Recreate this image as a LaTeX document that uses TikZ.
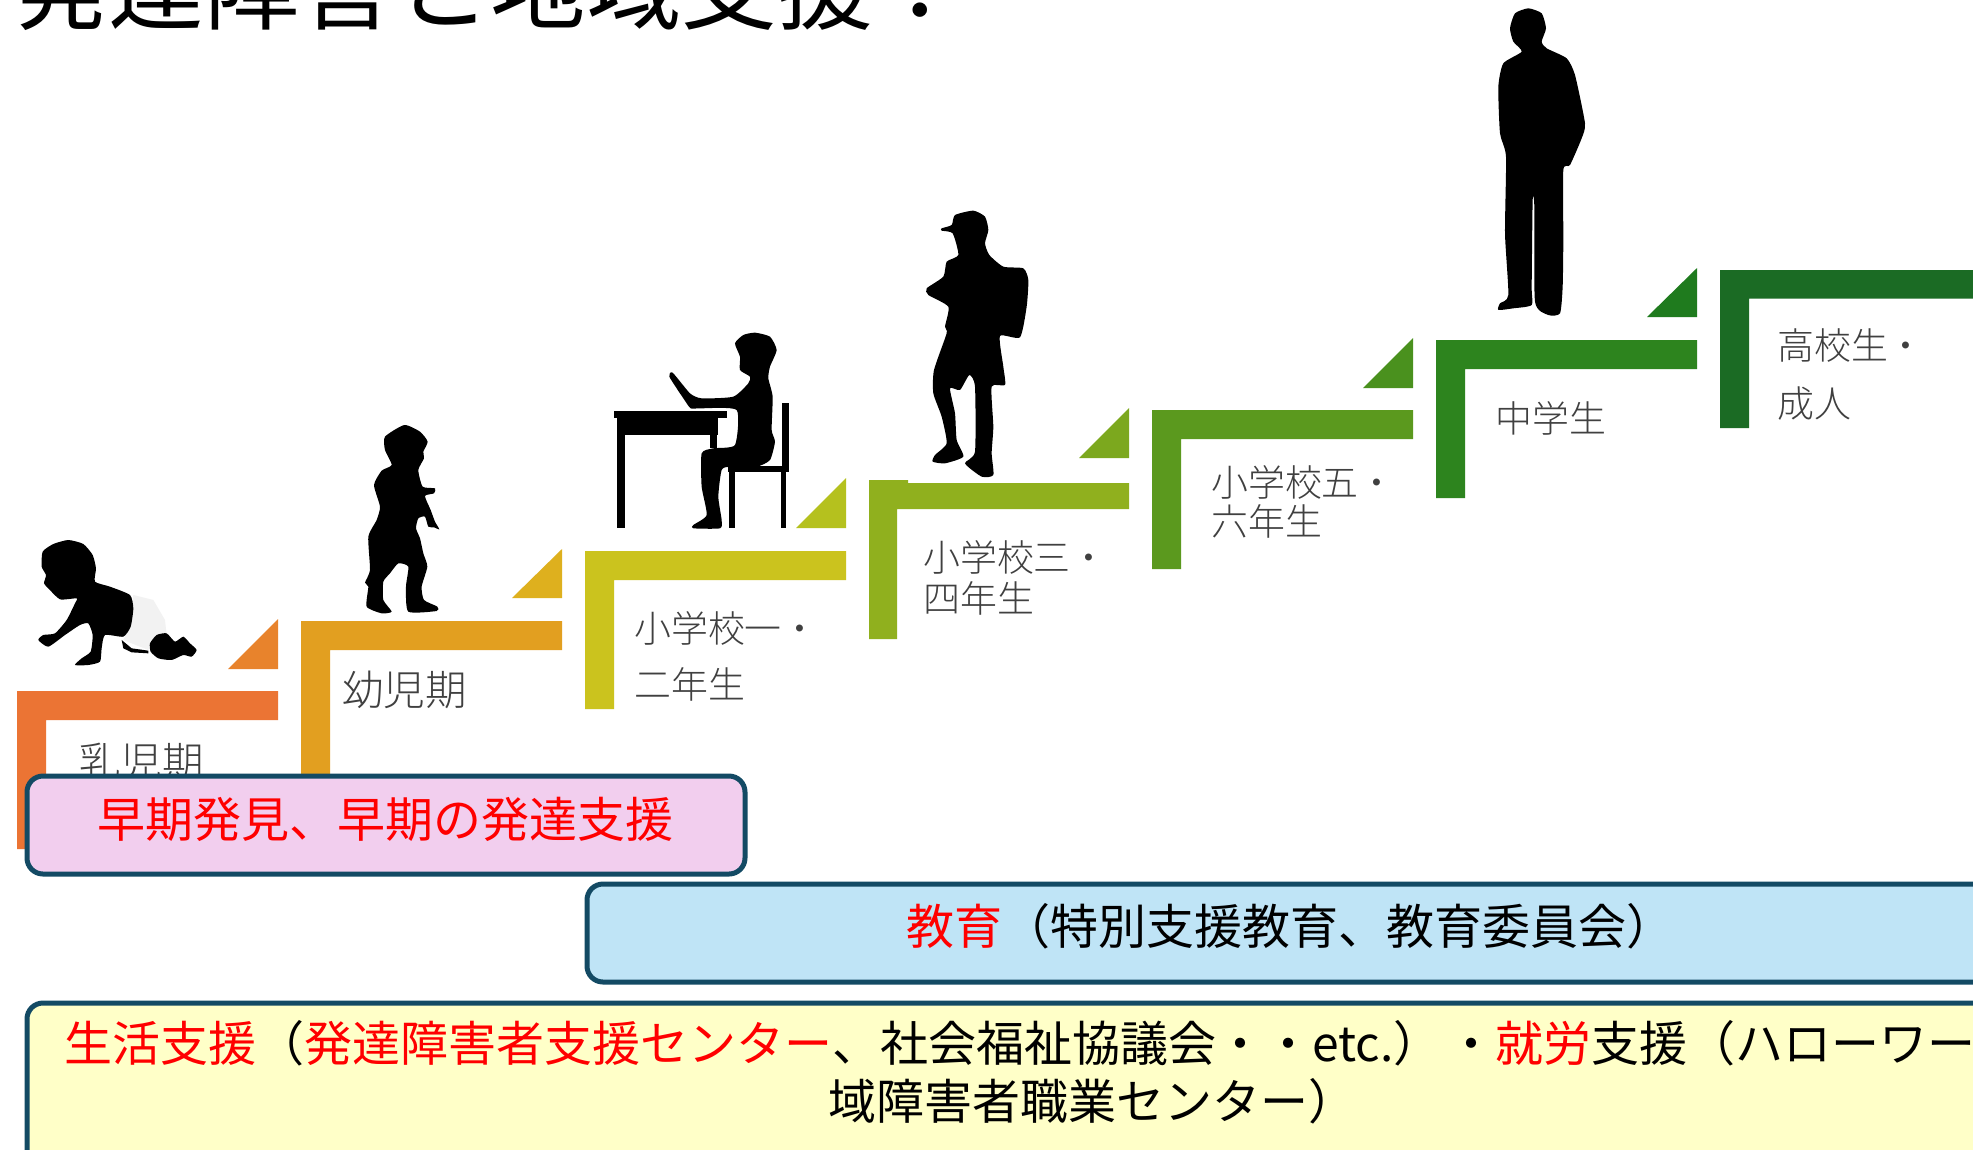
\documentclass[tikz,border=0pt]{standalone}
\usepackage{fontspec}
\setmainfont{Noto Sans CJK JP}
\newfontfamily\lightcjk{Noto Sans CJK JP Light}
\definecolor{bordc}{HTML}{134A64}
\definecolor{pinkband}{HTML}{F2CEEE}
\definecolor{blueband}{HTML}{BFE4F6}
\definecolor{yellowband}{HTML}{FFFFC8}
\definecolor{ca}{HTML}{EB7434}\definecolor{ta}{HTML}{E8832C}
\definecolor{cb}{HTML}{E29F20}\definecolor{tb}{HTML}{DEB01E}
\definecolor{cc}{HTML}{CBC31E}\definecolor{tc}{HTML}{B5C11E}
\definecolor{cd}{HTML}{90B01E}\definecolor{td}{HTML}{7CA81E}
\definecolor{ce}{HTML}{5B991E}\definecolor{te}{HTML}{4A911E}
\definecolor{cf}{HTML}{2D841E}\definecolor{tf}{HTML}{1F7B1E}
\definecolor{cg}{HTML}{1B6B24}
\definecolor{lab}{HTML}{404040}
\tikzset{
  lifeband/.style={draw=bordc,line width=5pt,rounded corners=16pt,inner sep=0pt,outer sep=0pt},
  bandtext/.style={anchor=base,inner sep=0pt,font=\fontsize{48}{58}\selectfont},
  steplarge/.style={anchor=base west,inner sep=0pt,text=lab,font=\lightcjk\fontsize{41.5}{50}\selectfont},
  stepsmall/.style={anchor=base west,inner sep=0pt,text=lab,font=\lightcjk\fontsize{36.9}{44}\selectfont},
  shadow/.style={fill=black,draw=none},
  sil/.style={smooth cycle,tension=0.35}
}
\begin{document}
\begin{tikzpicture}[x=1pt,y=-1pt]
\useasboundingbox (0,0) rectangle (1973,1149);
\clip (0,0) rectangle (1973,1149);
\fill[white] (0,0) rectangle (1973,1149);
% title
\node[anchor=base west,inner sep=0pt,font=\fontsize{95.5}{110}\selectfont] (title) at (13,22) {発達障害と地域支援：};
% steps
\fill[ca] (17,691)--(278,691)--(278,720)--(46,720)--(46,849)--(17,849)--cycle;
\fill[ta] (278,619)--(278,669)--(228,669)--cycle;
\fill[cb] (301,621)--(562,621)--(562,650)--(330,650)--(330,779)--(301,779)--cycle;
\fill[tb] (562,549)--(562,598)--(512,598)--cycle;
\fill[cc] (585,551)--(846,551)--(846,580)--(614,580)--(614,709)--(585,709)--cycle;
\fill[tc] (846,478)--(846,528)--(796,528)--cycle;
\fill[cd] (869,480)--(908,480)--(908,483)--(1129,483)--(1129,509)--(897,509)--(897,639)--(869,639)--cycle;
\fill[td] (1129,408)--(1129,458)--(1079,458)--cycle;
\fill[ce] (1152,410)--(1413,410)--(1413,439)--(1181,439)--(1181,569)--(1152,569)--cycle;
\fill[te] (1413,338)--(1413,388)--(1363,388)--cycle;
\fill[cf] (1436,340)--(1697,340)--(1697,369)--(1465,369)--(1465,498)--(1436,498)--cycle;
\fill[tf] (1697,268)--(1697,317)--(1647,317)--cycle;
\fill[cg] (1720,270)--(1980,270)--(1980,298.5)--(1749,298.5)--(1749,428)--(1720,428)--cycle;
% step labels
\node[steplarge] (l1) at (79,777) {乳児期};
\node[steplarge] (l2) at (342,705) {幼児期};
\node[stepsmall] (l3a) at (634,642) {小学校一・};
\node[stepsmall] (l3b) at (634,698) {二年生};
\node[stepsmall] (l4a) at (923,571) {小学校三・};
\node[stepsmall] (l4b) at (923,612) {四年生};
\node[stepsmall] (l5a) at (1211,496) {小学校五・};
\node[stepsmall] (l5b) at (1211,535) {六年生};
\node[stepsmall] (l6) at (1495,432) {中学生};
\node[stepsmall] (l7a) at (1777,359) {高校生・};
\node[stepsmall] (l7b) at (1777,417) {成人};
% baby
\begin{scope}[shift={(20,520)},x=0.3333pt,y=-0.3333pt]
\fill[black!5] (340,225)--(400,240)--(435,300)--(440,345)--(395,360)--(385,390)--(310,360)--(330,320)--cycle;
\fill[shadow] plot[sil] coordinates {(68,95)(100,72)(145,60)(190,72)(218,105)(228,145)(225,185)(270,200)(330,225)(340,265)(332,320)(310,350)(255,345)(245,385)(240,425)(205,435)(165,435)(185,415)(212,395)(218,345)(205,310)(180,315)(135,345)(85,380)(55,360)(70,345)(105,340)(140,300)(165,250)(170,235)(120,238)(85,205)(72,190)(78,165)(65,140)};
\fill[shadow] (305,360)--(335,385)--(385,392)--(385,400)--(335,397)--(310,385)--cycle;
\fill[shadow] plot[sil] coordinates {(390,370)(410,345)(440,340)(465,365)(490,350)(510,370)(530,390)(515,410)(490,405)(455,420)(415,415)(392,395)};
\end{scope}
% toddler
\begin{scope}[shift={(340,410)},x=0.3333pt,y=-0.3333pt]
\fill[shadow] plot[sil] coordinates {(193,45)(240,65)(263,95)(250,125)(252,145)(235,180)(248,230)(285,235)(282,250)(255,258)(272,300)(285,335)(298,358)(282,352)(265,350)(255,320)(235,325)(228,355)(240,385)(250,430)(262,470)(245,530)(252,570)(292,590)(290,603)(205,605)(198,530)(205,470)(175,460)(150,490)(130,515)(130,570)(155,605)(125,610)(80,590)(85,530)(75,518)(90,480)(85,380)(110,330)(120,290)(102,225)(125,182)(155,165)(135,120)(135,80)};
\end{scope}
% child at desk
\begin{scope}[shift={(600,320)},x=0.3333pt,y=-0.3333pt]
\fill[shadow] (42,272) rectangle (380,295);
\fill[shadow] (52,295) rectangle (355,345);
\fill[shadow] (52,345) rectangle (75,625);
\fill[shadow] (330,345) rectangle (350,385);
\fill[shadow] plot[sil] coordinates {(465,38)(510,50)(530,90)(510,140)(505,175)(518,230)(515,330)(525,365)(510,420)(470,440)(390,440)(365,450)(355,530)(365,600)(360,625)(280,625)(280,615)(320,585)(305,500)(305,400)(340,385)(405,375)(410,270)(300,265)(272,265)(250,235)(208,170)(218,158)(270,220)(305,235)(400,230)(445,190)(450,170)(420,150)(420,110)(405,70)(430,45)};
\fill[shadow] (546,250) rectangle (568,440);
\fill[shadow] (385,438) rectangle (568,455);
\fill[shadow] (388,455) rectangle (405,625);
\fill[shadow] (542,455) rectangle (558,625);
\end{scope}
% boy with backpack
\begin{scope}[shift={(910,200)},x=0.3333pt,y=-0.3333pt]
\fill[shadow] plot[sil] coordinates {(190,32)(225,50)(235,90)(225,130)(238,165)(280,200)(340,205)(355,240)(350,320)(330,412)(270,408)(280,500)(285,555)(245,560)(250,680)(245,760)(250,825)(215,830)(165,790)(195,755)(195,560)(178,525)(150,570)(120,565)(135,640)(140,720)(160,770)(105,790)(68,785)(75,765)(110,730)(95,650)(70,580)(72,510)(110,400)(105,380)(115,320)(55,285)(50,265)(100,230)(110,185)(145,165)(128,100)(95,92)(95,85)(125,75)(135,45)};
\end{scope}
% man
\begin{scope}[shift={(1480,0)},x=0.3333pt,y=-0.3333pt]
\fill[shadow] plot[sil] coordinates {(145,25)(185,40)(198,85)(185,125)(200,145)(260,175)(285,225)(315,370)(305,415)(270,495)(250,510)(250,720)(248,860)(240,940)(205,945)(165,905)(163,620)(158,600)(155,860)(155,915)(100,925)(55,930)(60,910)(85,885)(75,700)(78,470)(60,400)(55,260)(70,190)(125,155)(100,125)(90,85)(105,40)};
\end{scope}
% bands
\draw[lifeband,fill=pinkband] (27,776) rectangle (745,874);
\draw[lifeband,fill=blueband] (587,884) rectangle (1993,982);
\draw[lifeband,fill=yellowband] (27,1003) rectangle (2159,1200);
\node[bandtext,text=red] (pinktext) at (385.5,837) {早期発見、早期の発達支援};
\node[bandtext] (bluetext) at (1290,944) {\textcolor{red}{教育}（特別支援教育、教育委員会）};
\node[bandtext,anchor=base west] (yellowtext) at (64,1061) {\textcolor{red}{生活支援}（\textcolor{red}{発達障害者支援センター}、社会福祉協議会・・etc.）\kern6pt ・\textcolor{red}{就労}支援（ハローワーク、地};
\node[bandtext,anchor=base west] (yellowtexttwo) at (828,1119) {域障害者職業センター）};
\end{tikzpicture}
\end{document}
